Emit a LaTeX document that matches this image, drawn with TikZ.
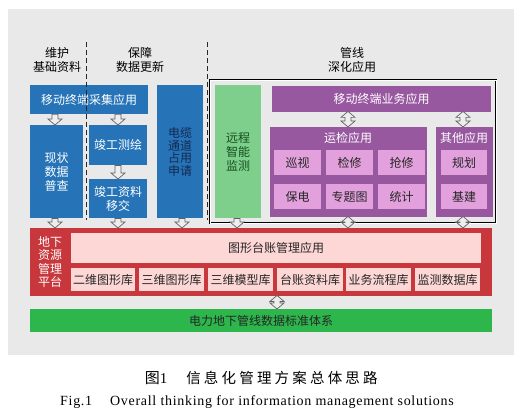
\documentclass[tikz,border=0pt]{standalone}
\usepackage{fontspec}
\setmainfont{Liberation Serif}
\newfontfamily\cjk{Noto Sans CJK SC}
\newfontfamily\cjkcap[LetterSpace=22]{Noto Sans CJK SC}
\newfontfamily\capen[LetterSpace=5]{Liberation Serif}
\usetikzlibrary{calc}
\definecolor{panelgray}{RGB}{233,233,233}
\definecolor{bluebox}{RGB}{38,116,183}
\definecolor{bluetext}{RGB}{20,40,80}
\definecolor{greenbox}{RGB}{126,206,140}
\definecolor{greentext}{RGB}{20,80,30}
\definecolor{purplebox}{RGB}{152,88,160}
\definecolor{pinkcell}{RGB}{226,160,220}
\definecolor{redbox}{RGB}{200,55,60}
\definecolor{pinkbar}{RGB}{253,214,214}
\definecolor{greenbar}{RGB}{44,182,76}
\definecolor{arrfill}{RGB}{238,238,238}
\definecolor{arrdraw}{RGB}{95,95,95}
\tikzset{
  cn/.style={font=\cjk\fontsize{12}{14}\selectfont, align=center, inner sep=0pt},
  blue/.style={cn, fill=bluebox, text=white},
  bluedark/.style={cn, fill=bluebox, text=bluetext},
  purp/.style={cn, fill=purplebox, text=white},
  cell/.style={cn, fill=pinkcell, text=black!85},
  redb/.style={cn, fill=redbox},
  pinkb/.style={cn, fill=pinkbar, text=black!85},
  greenb/.style={cn, fill=greenbox, text=greentext},
  stdb/.style={cn, fill=greenbar, text=black!85},
  hdr/.style={cn, text=black},
  blockarr/.style={fill=arrfill, draw=arrdraw, line width=0.7pt, line join=miter},
  divider/.style={draw=black!85, line width=0.7pt, dash pattern=on 5pt off 3pt}
}
\newcommand\boxnode[7]{%
  \node[#6, minimum width={(#4-#2)*1pt}, minimum height={(#5-#3)*1pt}, anchor=north west] (#1) at (#2,#3) {#7};}
% single down arrow: x, from node, to node
\newcommand\darr[3]{%
  \path[blockarr] let \p1=(#2.south), \p2=(#3.north) in
    (#1pt-3pt,\y1) -- (#1pt+3pt,\y1) -- (#1pt+3pt,\y2+6pt) -- (#1pt+7pt,\y2+6pt)
    -- (#1pt,\y2) -- (#1pt-7pt,\y2+6pt) -- (#1pt-3pt,\y2+6pt) -- cycle;}
% double arrow
\newcommand\ddarr[3]{%
  \path[blockarr] let \p1=(#2.south), \p2=(#3.north) in
    (#1pt,\y1+1pt) -- (#1pt+7pt,\y1-5pt) -- (#1pt+3pt,\y1-5pt) -- (#1pt+3pt,\y2+6pt)
    -- (#1pt+7pt,\y2+6pt) -- (#1pt,\y2) -- (#1pt-7pt,\y2+6pt) -- (#1pt-3pt,\y2+6pt)
    -- (#1pt-3pt,\y1-5pt) -- (#1pt-7pt,\y1-5pt) -- cycle;}
\begin{document}
\begin{tikzpicture}[x=1pt,y=-1pt]
\useasboundingbox (0,0) rectangle (530,417);
\fill[white] (0,0) rectangle (530,417);
\boxnode{panel}{8}{9}{514}{355}{fill=panelgray}{}

% headers
\node[hdr] (h1) at (57,60) {维护\\基础资料};
\node[hdr] (h2) at (140,60) {保障\\数据更新};
\node[hdr] (h3) at (352,60) {管线\\深化应用};

% blue column
\boxnode{mobc}{30}{85}{148}{114}{blue}{移动终端采集应用}
\boxnode{cable}{157}{85}{203}{218}{bluedark, font=\cjk\fontsize{12}{12.5}\selectfont}{电缆\\通道\\占用\\申请}
\boxnode{survey}{30}{125}{83}{218}{blue}{现状\\数据\\普查}
\boxnode{jgch}{89}{125}{147}{165}{blue}{竣工测绘}
\boxnode{jgzl}{89}{179}{147}{218}{blue}{竣工资料\\移交}

% deep application area
\boxnode{deep}{210}{80}{496}{223}{draw=black, line width=0.6pt, double=white, double distance=0.8pt}{}
\boxnode{remote}{215}{85}{261}{218}{greenb}{远程\\智能\\监测}
\boxnode{mobb}{272}{86}{491}{112}{purp}{移动终端业务应用}
\boxnode{yj}{270}{127}{427}{217}{purp}{}
\boxnode{qt}{436}{127}{493}{217}{purp}{}
\node[cn, text=white] (yjt) at (348,138) {运检应用};
\node[cn, text=white] (qtt) at (464,138) {其他应用};
\boxnode{c1}{274}{150}{321}{175}{cell}{巡视}
\boxnode{c2}{326}{150}{373}{175}{cell}{检修}
\boxnode{c3}{378}{150}{425}{175}{cell}{抢修}
\boxnode{c4}{274}{184}{321}{209}{cell}{保电}
\boxnode{c5}{326}{184}{373}{209}{cell}{专题图}
\boxnode{c6}{378}{184}{425}{209}{cell}{统计}
\boxnode{c7}{441}{150}{487}{175}{cell}{规划}
\boxnode{c8}{441}{184}{487}{209}{cell}{基建}

% dividers
\coordinate (d1a) at (86,42); \coordinate (d1b) at (86,220);
\coordinate (d2a) at (207,42); \coordinate (d2b) at (207,220);
\draw[divider] (d1a) -- (d1b);
\draw[divider] (d2a) -- (d2b);

% platform
\boxnode{plat}{30}{228}{492}{296}{redb}{}
\node[cn, text=white, font=\cjk\fontsize{12}{13.2}\selectfont] (platl) at (50,262) {地下\\资源\\管理\\平台};
\boxnode{gapp}{71}{233}{481}{263}{pinkb}{图形台账管理应用}
\boxnode{l1}{71}{268}{135}{291}{pinkb}{二维图形库}
\boxnode{l2}{139}{268}{204}{291}{pinkb}{三维图形库}
\boxnode{l3}{208}{268}{273}{291}{pinkb}{三维模型库}
\boxnode{l4}{277}{268}{343}{291}{pinkb}{台账资料库}
\boxnode{l5}{346}{268}{411}{291}{pinkb}{业务流程库}
\boxnode{l6}{415}{268}{480}{291}{pinkb}{监测数据库}
\boxnode{std}{30}{309}{492}{332}{stdb}{电力地下管线数据标准体系}

% arrows
\darr{55}{mobc}{survey}
\darr{118}{mobc}{jgch}
\darr{118}{jgch}{jgzl}
\darr{55}{survey}{plat}
\darr{118}{jgzl}{plat}
\darr{182}{cable}{plat}
\darr{237}{remote}{plat}
\ddarr{348}{mobb}{yj}
\ddarr{463}{mobb}{qt}
\ddarr{348}{yj}{plat}
\ddarr{463}{qt}{plat}
\ddarr{277}{plat}{std}

% caption
\node[inner sep=0pt, font=\fontsize{15}{17}\selectfont] (capn) at (156,378) {{\cjk 图}1};
\node[inner sep=0pt, font=\cjkcap\fontsize{14.5}{17}\selectfont] (capt) at (282,378) {信息化管理方案总体思路};
\node[inner sep=0pt, font=\capen\fontsize{14}{16}\selectfont, anchor=west] (fign) at (60,402) {Fig.1};
\node[inner sep=0pt, font=\capen\fontsize{14}{16}\selectfont, anchor=west] (figt) at (110,402) {Overall thinking for information management solutions};
\end{tikzpicture}
\end{document}
